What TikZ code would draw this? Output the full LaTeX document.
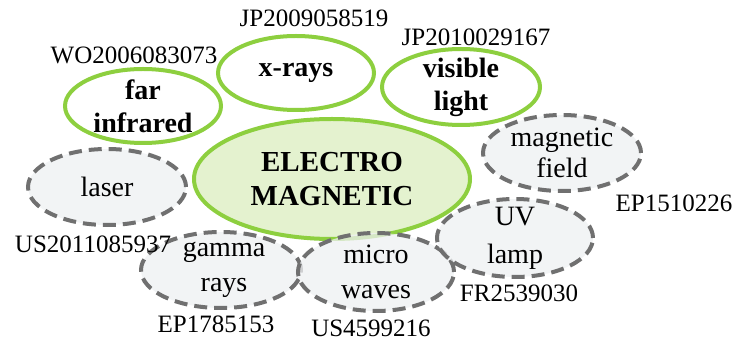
\documentclass[tikz,border=0pt]{standalone}
\usepackage{fontspec}
\setmainfont{Liberation Serif}
\usepackage{tikz}
\usetikzlibrary{positioning, shapes.geometric}
\definecolor{leaf}{HTML}{8DCF3F}
\definecolor{leafpale}{HTML}{E4F2CF}
\definecolor{dashgray}{HTML}{707070}
\definecolor{mist}{HTML}{EEF0F2}

\begin{document}
\begin{tikzpicture}[x=0.5pt, y=-0.5pt,
        every node/.style={inner sep=0pt},
        greenbub/.style={ellipse, draw=leaf, line width=2pt, fill=white,
          minimum width=78pt, minimum height=37pt},
        graybub/.style={ellipse, draw=dashgray, line width=2pt,
          dash pattern=on 6.5pt off 3.5pt, fill=mist, fill opacity=0.75,
          minimum width=79pt, minimum height=38pt},
        boldtxt/.style={align=center, font=\fontsize{14}{16.5}\selectfont\bfseries},
        plaintxt/.style={align=center, font=\fontsize{14}{17.5}\selectfont},
        patno/.style={font=\fontsize{12.5}{14}\selectfont}]

      \useasboundingbox (0,0) rectangle (740,347);

      % green (bold) bubbles
      \node[greenbub] (far) at (143,106) {};
      \node[greenbub] (xray) at (296,73) {};
      \node[greenbub, minimum width=79pt, minimum height=38pt] (vis) at (461,87) {};
      \node[greenbub, fill=leafpale, minimum width=138pt, minimum height=60pt]
        (em) at (332,179) {};

      % dashed bubbles
      \node[graybub] (laser) at (107,187) {};
      \node[graybub] (mag) at (562,153) {};
      \node[graybub, minimum width=80pt] (gamma) at (221,270) {};
      \node[graybub, minimum width=78pt, minimum height=39pt] (micro) at (376,272) {};
      \node[graybub, minimum width=78pt, minimum height=39pt] (uv) at (515,238) {};

      % texts inside
      \node[boldtxt] (farT) at (far) {far\\infrared};
      \node[boldtxt] (xrayT) at (xray) {x-rays};
      \node[boldtxt] (visT) at (vis) {visible\\light};
      \node[boldtxt, font=\fontsize{14.5}{17}\selectfont\bfseries] (emT) at (em)
        {ELECTRO\\MAGNETIC};
      \node[plaintxt] (laserT) at (laser) {laser};
      \node[plaintxt, font=\fontsize{14}{15.5}\selectfont] (magT) at (mag)
        {magnetic\\field};
      \node[plaintxt] (gammaT) at (224,270) {gamma\\rays};
      \node[plaintxt] (microT) at (micro) {micro\\waves};
      \node[plaintxt, font=\fontsize{14}{19}\selectfont] (uvT) at (uv) {UV\\lamp};

      % patent numbers
      \node[patno] (wo) at (134,55) {WO2006083073};
      \node[patno] (jp1) at (314,18) {JP2009058519};
      \node[patno] (jp2) at (476,37) {JP2010029167};
      \node[patno] (ep1) at (674,203) {EP1510226};
      \node[patno] (us1) at (93,244) {US2011085937};
      \node[patno] (ep2) at (216,324) {EP1785153};
      \node[patno] (us2) at (371,328) {US4599216};
      \node[patno] (fr) at (519,293) {FR2539030};
    \end{tikzpicture}
\end{document}
